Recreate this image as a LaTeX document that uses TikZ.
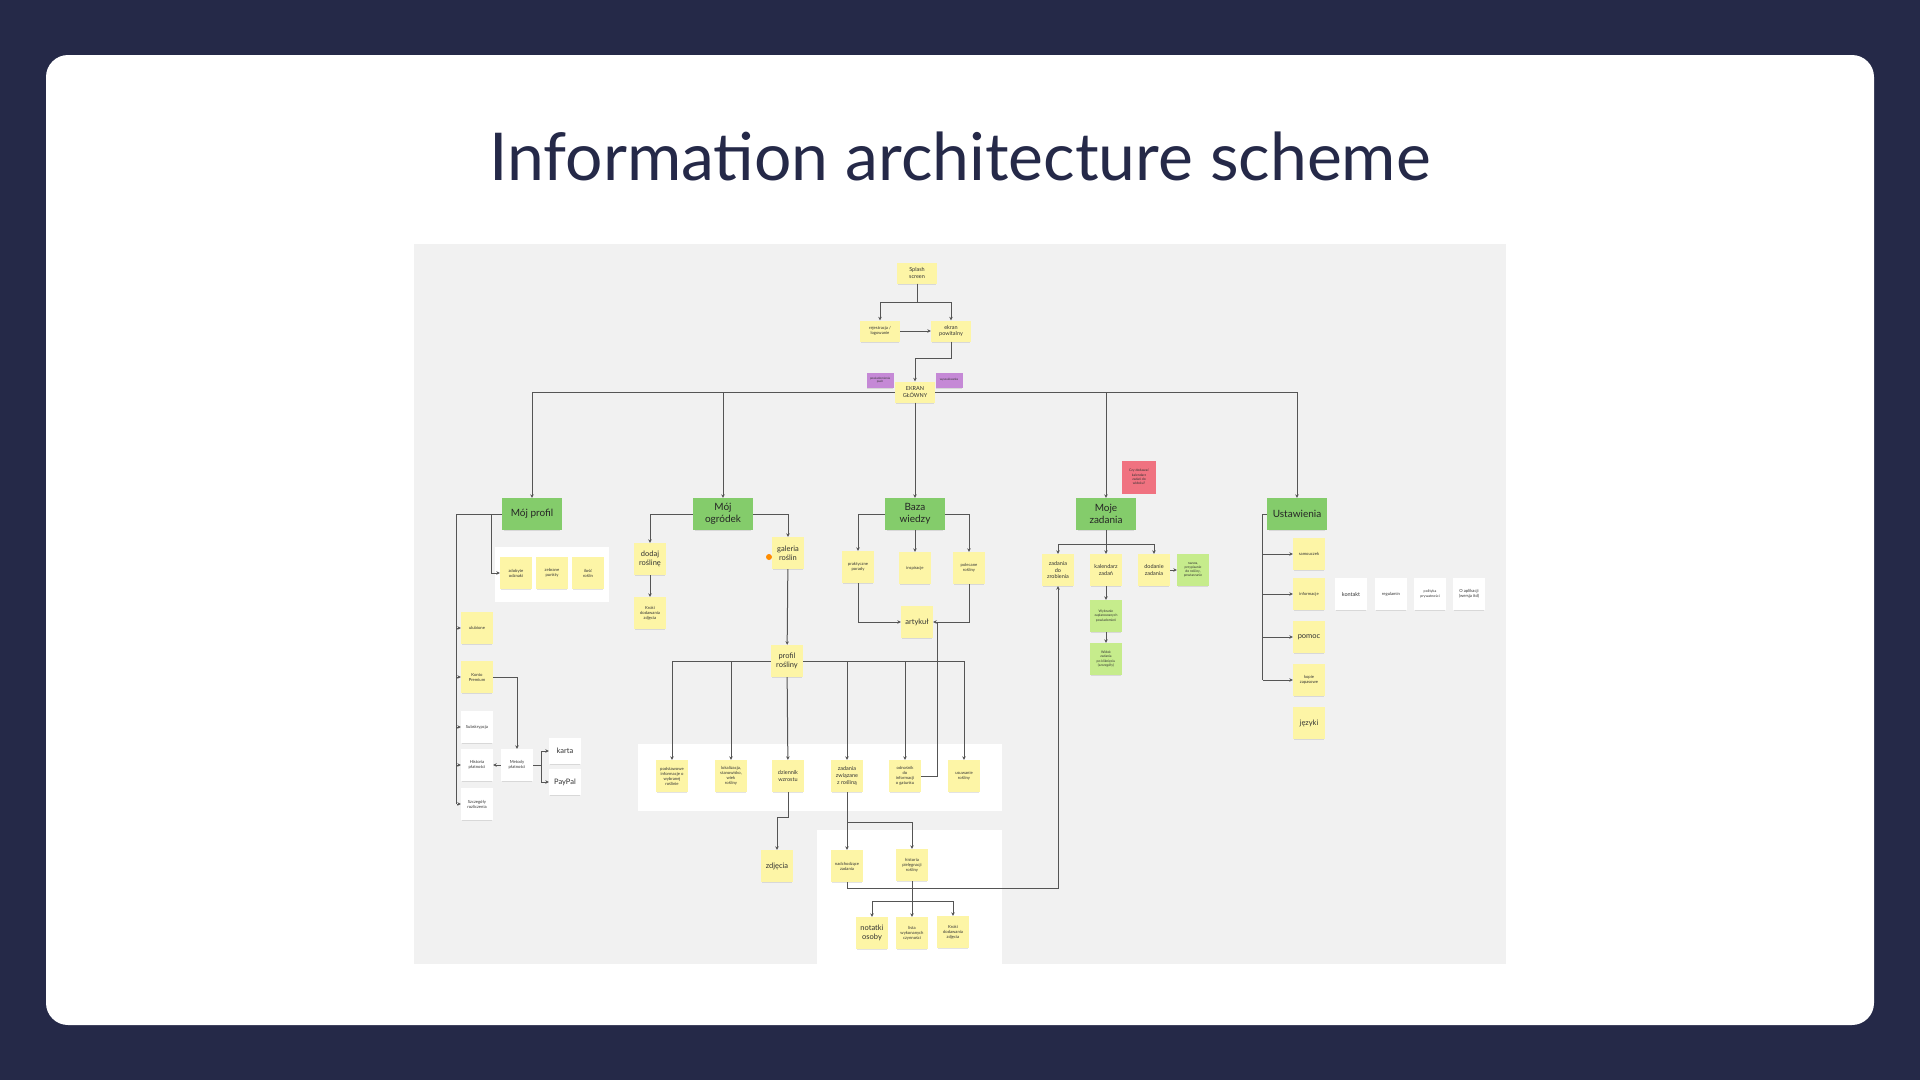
\documentclass[tikz,border=0pt]{standalone}
\usepackage{fontspec}
\setmainfont{Lato}
\usetikzlibrary{arrows.meta,positioning,shadows}
\definecolor{Navy}{RGB}{37,41,72}
\definecolor{PanelGray}{RGB}{241,241,241}
\definecolor{NoteYellow}{RGB}{253,245,166}
\definecolor{NoteGreen}{RGB}{132,204,107}
\definecolor{NoteLime}{RGB}{198,236,140}
\definecolor{NotePurple}{RGB}{197,137,214}
\definecolor{NoteRed}{RGB}{240,114,128}
\definecolor{LineGray}{RGB}{85,85,85}
\newcommand\txs{\fontsize{4.2}{5}\selectfont}
\newcommand\txm{\fontsize{5.5}{6.8}\selectfont}
\newcommand\txl{\fontsize{7.5}{9}\selectfont}
\tikzset{
  note/.style={rectangle,fill=NoteYellow,minimum width=32pt,minimum height=32pt,
    inner sep=1pt,align=center,text=black!80,font=\txs,
    drop shadow={shadow xshift=0pt,shadow yshift=-2pt,shadow scale=.94,opacity=.22}},
  ts/.style={font=\txs},
  tm/.style={font=\txm},
  tl/.style={font=\txl},
  widenote/.style={note,minimum width=40pt,minimum height=21pt},
  mainnote/.style={note,fill=NoteGreen,minimum width=60pt,minimum height=32pt,
    font=\fontsize{10}{12.5}\selectfont,text=black!85},
  whitenote/.style={note,fill=white},
  limenote/.style={note,fill=NoteLime},
  purplenote/.style={note,fill=NotePurple,minimum width=27pt,minimum height=15pt,
    font=\fontsize{3}{3.6}\selectfont},
  rednote/.style={note,fill=NoteRed,minimum width=34pt,minimum height=33pt,
    font=\fontsize{3.4}{4.2}\selectfont},
  line/.style={draw=LineGray,line width=1pt},
  link/.style={line,-{Stealth[length=3.5pt,width=3.5pt]}}
}
\begin{document}
\begin{tikzpicture}[x=1pt,y=-1pt]
\useasboundingbox (0,0) rectangle (1920,1080);
\fill[Navy] (0,0) rectangle (1920,1080);
\fill[white,rounded corners=22pt] (46,55) rectangle (1874,1025);
\node[font=\fontsize{66}{74}\selectfont,text=Navy,anchor=base] (title) at (960,180)
  {Information architecture scheme};

% board
\fill[PanelGray] (414,244) rectangle (1506,964);
\fill[white] (495,547) rectangle (609,602);
\fill[white] (638,744) rectangle (1002,811);
\fill[white] (817,830) rectangle (1002,964);

% start
\node[widenote,tm] (splash) at (917,273) {Splash\\screen};
\node[widenote,ts] (reg) at (880,331) {rejestracja /\\logowanie};
\node[widenote,tm] (welcome) at (951,331) {ekran\\powitalny};
\node[widenote,tm] (main) at (915,392) {EKRAN\\GŁÓWNY};
\node[purplenote] (push) at (880,380) {powiadomienia\\push};
\node[purplenote] (search) at (949,380) {wyszukiwarka};

% sections
\node[mainnote] (profil) at (532,514) {Mój profil};
\node[mainnote] (ogrodek) at (723,514) {Mój\\ogródek};
\node[mainnote] (baza) at (915,514) {Baza\\wiedzy};
\node[mainnote] (zadania) at (1106,514) {Moje\\zadania};
\node[mainnote] (ustaw) at (1297,514) {Ustawienia};
\node[rednote] (pytanie) at (1139,477) {Czy dodawać\\kalendarz\\zadań do\\widoku?};

% moj profil
\node[note] (odznaki) at (516,573) {zdobyte\\odznaki};
\node[note] (punkty) at (552,573) {zebrane\\punkty};
\node[note] (ilosc) at (588,573) {ilość\\roślin};
\node[note] (ulub) at (477,628) {ulubione};
\node[note] (premium) at (477,677) {Konto\\Premium};
\node[whitenote] (subskr) at (477,727) {Subskrypcja};
\node[whitenote] (historia) at (477,765) {Historia\\płatności};
\node[whitenote] (szczeg) at (477,804) {Szczegóły\\rozliczenia};
\node[whitenote] (metody) at (517,765) {Metody\\płatności};
\node[whitenote,tl,minimum height=26pt] (karta) at (565,751) {karta};
\node[whitenote,tl,minimum height=26pt] (paypal) at (565,782) {PayPal};

% moj ogrodek
\node[note,tl] (dodaj) at (650,559) {dodaj\\roślinę};
\node[note] (krokid) at (650,613) {Kroki\\dodawania\\zdjęcia};
\node[note,tl] (galeria) at (788,553) {galeria\\roślin};
\node[note,tl] (profilr) at (787,661) {profil\\rośliny};
\node[note] (podst) at (672,776) {podstawowe\\informacje o\\wybranej\\roślinie};
\node[note] (lokal) at (731,776) {lokalizacja,\\stanowisko,\\wiek\\rośliny};
\node[note,tm] (dziennik) at (788,776) {dziennik\\wzrostu};
\node[note,tm] (zadz) at (847,776) {zadania\\związane\\z rośliną};
\node[note] (odnos) at (905,776) {odnośnik\\do\\informacji\\o gatunku};
\node[note] (usun) at (964,776) {usuwanie\\rośliny};
\node[note,tl] (zdjecia) at (777,866) {zdjęcia};
\node[note] (nadch) at (847,866) {nadchodzące\\zadania};
\node[note] (histp) at (912,865) {historia\\pielęgnacji\\rośliny};
\node[note,tl] (notatki) at (872,933) {notatki\\osoby};
\node[note] (lista) at (912,933) {lista\\wykonanych\\czynności};
\node[note] (krokiz) at (953,932) {Kroki\\dodawania\\zdjęcia};

% baza wiedzy
\node[note] (porady) at (858,567) {praktyczne\\porady};
\node[note] (inspir) at (915,568) {inspiracje};
\node[note] (polecane) at (969,568) {polecane\\rośliny};
\node[note,tl] (artykul) at (917,622) {artykuł};
\coordinate (join) at (937,622);

% moje zadania
\node[note,tm] (dozrob) at (1058,570) {zadania\\do\\zrobienia};
\node[note,tm] (kal) at (1106,570) {kalendarz\\zadań};
\node[note,tm] (dodanie) at (1154,570) {dodanie\\zadania};
\node[limenote,font=\fontsize{3.4}{4.2}\selectfont] (opis) at (1193,570) {nazwa,\\przypisanie\\do rośliny,\\powtarzanie};
\node[limenote,font=\fontsize{3.4}{4.2}\selectfont] (wyb) at (1106,616) {Wybranie\\zaplanowanych\\powiadomień};
\node[limenote,font=\fontsize{3.4}{4.2}\selectfont] (widok) at (1106,659) {Widok\\zadania\\po kliknięciu\\(szczegóły)};

% ustawienia
\node[note] (samo) at (1309,554) {samouczek};
\node[note] (inform) at (1309,594) {informacje};
\node[note,tl] (pomoc) at (1309,637) {pomoc};
\node[note] (kopie) at (1309,680) {kopie\\zapasowe};
\node[note,tl] (jezyki) at (1309,723) {języki};
\node[whitenote,tm] (kontakt) at (1351,594) {kontakt};
\node[whitenote] (regul) at (1391,594) {regulamin};
\node[whitenote,font=\fontsize{3.6}{4.4}\selectfont] (polityka) at (1430,594) {polityka\\prywatności};
\node[whitenote] (oaplik) at (1469,594) {O aplikacji\\(wersja itd)};

% connectors
\draw[link] (splash.south) -- ++(0,19) -| (reg.north);
\draw[link] (splash.south) -- ++(0,19) -| (welcome.north);
\draw[link] (reg) -- (welcome);
\draw[link] (welcome.south) -- ++(0,17) -| (main.north);
\draw[link] (main.west) -| (profil.north);
\draw[link] (main.west) -| (ogrodek.north);
\draw[link] (main.south) -- (baza.north);
\draw[link] (main.east) -| (zadania.north);
\draw[link] (main.east) -| (ustaw.north);

\draw[line] (profil.west) -- ++(-45,0) coordinate (ptrunk) -- (ptrunk |- szczeg);
\foreach \n in {ulub,premium,subskr,historia,szczeg}
  \draw[link] (ptrunk |- \n) -- (\n.west);
\draw[link] ([xshift=-10pt]profil.west) |- (odznaki.west);
\draw[link] (premium.east) -| (metody.north);
\draw[link] (metody.west) -- (historia.east);
\draw[link] (metody.east) -- ++(8,0) |- (karta.west);
\draw[link] (metody.east) -- ++(8,0) |- (paypal.west);

\draw[link] (ogrodek.west) -| (dodaj.north);
\draw[link] (ogrodek.east) -| (galeria.north);
\draw[link] (dodaj) -- (krokid);
\draw[link] (galeria) -- (profilr);
\fill[orange!90!yellow] (769,557) circle (3pt);
\draw[link] (profilr.west) -| (podst.north);
\draw[link] (profilr.west) -| (lokal.north);
\draw[link] (profilr) -- (dziennik);
\draw[link] (profilr.east) -| (zadz.north);
\draw[link] (profilr.east) -| (odnos.north);
\draw[link] (profilr.east) -| (usun.north);
\draw[link] (dziennik.south) -- ++(0,25) -| (zdjecia.north);
\draw[link] (zadz) -- (nadch);
\draw[link] (zadz.south) -- ++(0,30) -| (histp.north);
\draw[link] (nadch.south) -- ++(0,6) -| (dozrob.south);
\foreach \n in {notatki,lista,krokiz}
  \draw[link] (histp.south) -- ++(0,20) -| (\n.north);

\draw[link] (baza.west) -| (porady.north);
\draw[link] (baza) -- (inspir);
\draw[link] (baza.east) -| (polecane.north);
\draw[link] (porady.south) |- (artykul.west);
\draw[link] (polecane.south) |- (artykul.east);
\draw[line] (odnos.east) -| (join);

\draw[link] (zadania.south) -- ++(0,14) -| (dozrob.north);
\draw[link] (zadania) -- (kal);
\draw[link] (zadania.south) -- ++(0,14) -| (dodanie.north);
\draw[link] (dodanie) -- (opis);
\draw[link] (kal) -- (wyb);
\draw[link] (wyb) -- (widok);

\draw[line] (ustaw.west) -- ++(-4,0) coordinate (utrunk) -- (utrunk |- kopie);
\foreach \n in {samo,inform,pomoc,kopie}
  \draw[link] (utrunk |- \n) -- (\n.west);
\end{tikzpicture}
\end{document}
